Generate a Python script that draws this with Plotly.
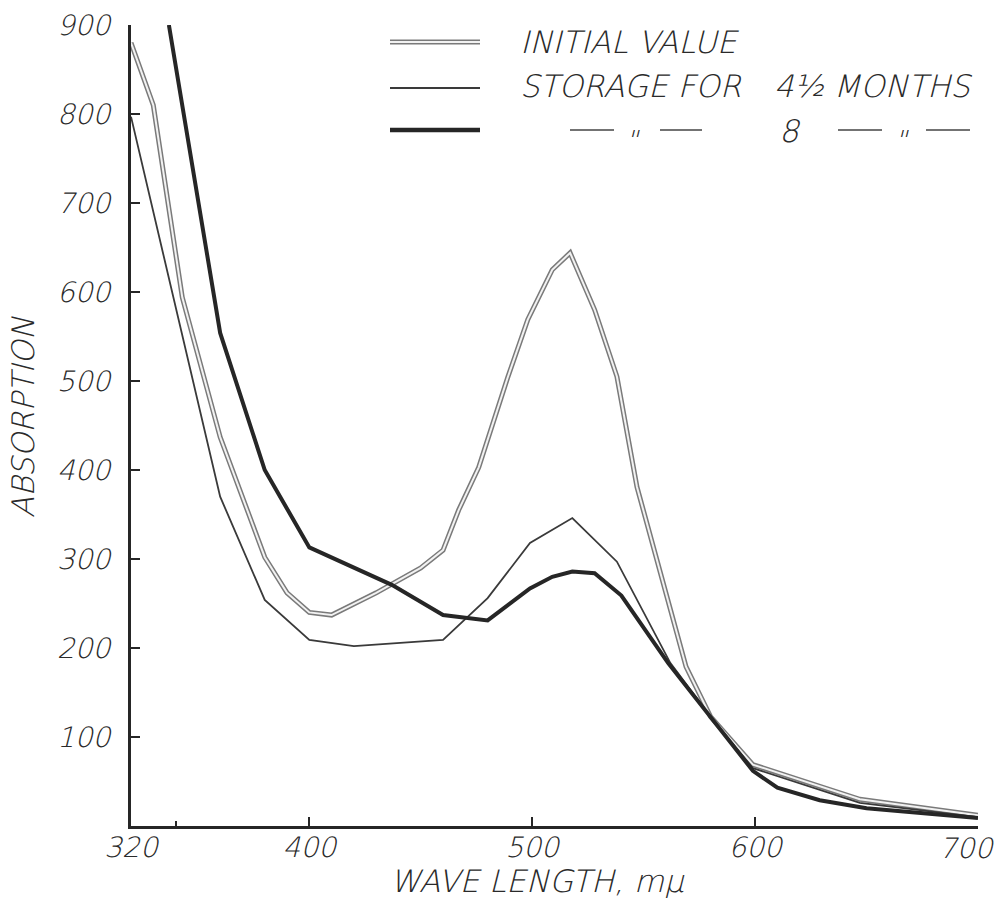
import plotly.graph_objects as go

# ---- data ----
initial_x = [320, 330, 343, 360, 380, 390, 400, 410, 430, 450, 460, 467, 476, 489, 498, 509, 517, 528, 538, 547, 569, 580, 599, 647, 700]
initial_y = [880, 810, 594, 437, 302, 262, 240, 237, 262, 290, 310, 355, 403, 504, 569, 625, 644, 580, 505, 381, 179, 123, 69, 30, 12]

m45_x = [320, 360, 380, 400, 420, 460, 480, 499, 518, 538, 562, 580, 599, 647, 700]
m45_y = [797, 370, 254, 209, 202, 209, 256, 318, 346, 297, 183, 123, 65, 26, 10]

m8_x = [337, 360, 380, 400, 437, 460, 480, 499, 509, 518, 528, 540, 561, 580, 599, 610, 629, 650, 700]
m8_y = [900, 554, 400, 313, 271, 237, 231, 267, 280, 286, 284, 259, 183, 123, 62, 43, 29, 20, 9]

x_tickvals = [320, 400, 500, 600, 700]
x_ticktext = ["320", "400", "500", "600", ""]
x_last_label = 700
x_minor_ticks = [340]
y_tickvals = [100, 200, 300, 400, 500, 600, 700, 800, 900]
y_ticktext = [str(v) for v in y_tickvals]

legend_labels = ["INITIAL VALUE", "STORAGE FOR", "4½ MONTHS", "8"]

# ---- layout geometry ----
W, H = 997, 898
L, R, T, B = 131, 19, 25, 72
PW, PH = W - L - R, H - T - B

def px(xp):
    return (xp - L) / PW

def py(yp):
    return (H - B - yp) / PH

FONT = "DejaVu Sans Light, DejaVu Sans"
TXT = "#2a2a2a"
INK = "#262626"

fig = go.Figure()
fig.add_trace(go.Scatter(x=initial_x, y=initial_y, mode="lines",
                         line=dict(color="#7a7a7a", width=5), hoverinfo="skip", showlegend=False))
fig.add_trace(go.Scatter(x=initial_x, y=initial_y, mode="lines",
                         line=dict(color="#f2f2f2", width=2), hoverinfo="skip", showlegend=False))
fig.add_trace(go.Scatter(x=m45_x, y=m45_y, mode="lines",
                         line=dict(color="#3a3a3a", width=1.8), showlegend=False))
fig.add_trace(go.Scatter(x=m8_x, y=m8_y, mode="lines",
                         line=dict(color=INK, width=4), showlegend=False))

tickfont = dict(family=FONT, size=28, color=TXT, style="italic", weight=300)

fig.update_layout(
    width=W, height=H,
    margin=dict(l=L, r=R, t=T, b=B, pad=0, autoexpand=False),
    paper_bgcolor="white", plot_bgcolor="white",
    showlegend=False,
    xaxis=dict(range=[320, 700], tickvals=x_tickvals, ticktext=x_ticktext, automargin=False,
               showgrid=False, zeroline=False, showline=True, linecolor=INK, linewidth=3,
               ticks="inside", ticklen=9, tickwidth=2, tickcolor=INK,
               minor=dict(tickvals=x_minor_ticks, ticks="inside", ticklen=5, tickwidth=1.5, tickcolor=INK),
               tickfont=tickfont, ticklabelstandoff=-6, ticklabeloverflow="allow"),
    yaxis=dict(range=[0, 900], tickvals=y_tickvals, ticktext=y_ticktext, automargin=False,
               showgrid=False, zeroline=False, showline=True, linecolor=INK, linewidth=3,
               ticks="inside", ticklen=9, tickwidth=2, tickcolor=INK,
               tickfont=tickfont, ticklabelstandoff=12, ticklabeloverflow="allow"),
)

afont = dict(family=FONT, size=31, color=TXT, style="italic", weight=300)

# last x tick label, nudged left like the reference so it stays on the page
fig.add_annotation(text=str(x_last_label), xref="x", yref="paper", x=x_last_label,
                   y=py(848), xshift=-11, showarrow=False, font=tickfont,
                   xanchor="center", yanchor="middle")

# axis titles
fig.add_annotation(text="WAVE LENGTH, mμ", xref="paper", yref="paper",
                   x=px(537), y=py(881), showarrow=False, font=afont,
                   xanchor="center", yanchor="middle")
fig.add_annotation(text="ABSORPTION", xref="paper", yref="paper", textangle=-90,
                   x=px(23), y=py(417), showarrow=False, font=afont,
                   xanchor="center", yanchor="middle")

# legend samples
shapes = []
def seg(x0, x1, y, color, width):
    shapes.append(dict(type="line", xref="paper", yref="paper",
                       x0=px(x0), x1=px(x1), y0=py(y), y1=py(y),
                       line=dict(color=color, width=width)))

seg(390, 480, 42, "#7a7a7a", 5)
seg(390, 480, 42, "#f2f2f2", 2)
seg(390, 480, 88, "#3a3a3a", 1.8)
seg(390, 480, 130, INK, 4.5)
for a, b in [(570, 614), (660, 702), (838, 882), (926, 970)]:
    seg(a, b, 130, "#444444", 1.6)
fig.update_layout(shapes=shapes)

fig.add_annotation(text=legend_labels[0], xref="paper", yref="paper",
                   x=px(518), y=py(42), showarrow=False, font=afont,
                   xanchor="left", yanchor="middle")
fig.add_annotation(text=legend_labels[1], xref="paper", yref="paper",
                   x=px(518), y=py(86), showarrow=False, font=afont,
                   xanchor="left", yanchor="middle")
fig.add_annotation(text=legend_labels[2], xref="paper", yref="paper",
                   x=px(772), y=py(86), showarrow=False, font=afont,
                   xanchor="left", yanchor="middle")
fig.add_annotation(text=legend_labels[3], xref="paper", yref="paper",
                   x=px(790), y=py(131), showarrow=False, font=afont,
                   xanchor="center", yanchor="middle")
for xc in [633, 902]:
    fig.add_annotation(text='"', xref="paper", yref="paper",
                       x=px(xc), y=py(140), showarrow=False,
                       font=dict(family=FONT, size=26, color=TXT, style="italic"),
                       xanchor="center", yanchor="middle")

fig.write_html("out.html")
